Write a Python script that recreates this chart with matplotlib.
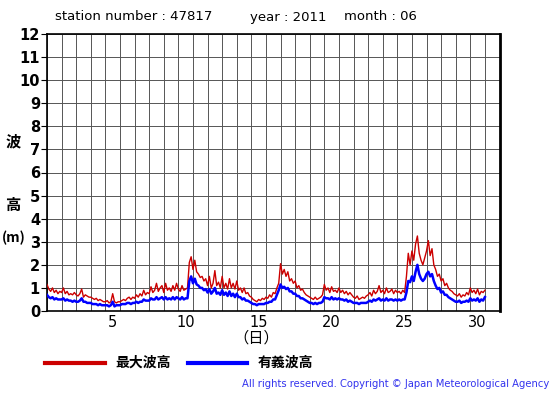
import numpy as np
import matplotlib
matplotlib.use("Agg")
import matplotlib.pyplot as plt

plt.rcParams['font.family'] = ['DejaVu Sans', 'Noto Sans CJK JP']

# 3-hourly readings, June 2011 (day 1 00h ... day 30 21h) + day 31 00h
max_wave = [
    1.15, 0.95, 0.85, 1.0, 0.8, 0.9, 0.75, 0.85,
    0.8, 1.0, 0.75, 0.85, 0.7, 0.75, 0.7, 0.8,
    0.7, 0.65, 0.75, 0.95, 0.6, 0.7, 0.65, 0.6,
    0.6, 0.55, 0.5, 0.55, 0.45, 0.5, 0.45, 0.4,
    0.4, 0.45, 0.35, 0.4, 0.75, 0.4, 0.35, 0.4,
    0.4, 0.45, 0.5, 0.45, 0.55, 0.6, 0.5, 0.6,
    0.55, 0.7, 0.6, 0.75, 0.65, 0.9, 0.7, 0.8,
    0.75, 1.05, 0.8, 0.9, 1.2, 0.85, 1.0, 1.1,
    0.8, 1.2, 0.9, 1.0, 0.85, 1.1, 0.9, 1.2,
    0.95, 0.85, 1.1, 0.9, 0.95, 1.0, 2.1, 2.35,
    1.8, 2.2, 1.7, 1.6, 1.45, 1.5, 1.3, 1.4,
    1.1, 1.5, 1.0, 1.2, 1.75, 1.1, 1.25, 1.0,
    1.5, 1.0, 1.2, 0.95, 1.4, 1.0, 1.2, 0.95,
    1.3, 0.9, 1.0, 0.8, 1.0, 0.75, 0.8, 0.65,
    0.6, 0.5, 0.45, 0.4, 0.5, 0.45, 0.55, 0.5,
    0.6, 0.55, 0.7, 0.6, 0.8, 0.75, 1.0, 1.2,
    2.05, 1.6, 1.8, 1.5, 1.7, 1.3, 1.4, 1.2,
    1.3, 1.0, 1.1, 0.9, 0.95, 0.8, 0.7, 0.65,
    0.6, 0.55, 0.5, 0.6, 0.5, 0.55, 0.6, 0.7,
    1.15, 0.9, 1.0, 0.8, 1.05, 0.85, 0.9, 0.8,
    1.0, 0.8, 0.9, 0.75, 0.85, 0.7, 0.8, 0.7,
    0.6, 0.55, 0.65, 0.5, 0.55, 0.6, 0.55, 0.65,
    0.7, 0.8, 0.65, 0.9, 0.75, 0.85, 1.1, 0.8,
    0.9, 0.75, 1.0, 0.8, 0.85, 0.95, 0.75, 0.9,
    0.8, 0.85, 0.75, 0.9, 0.8, 1.5, 2.5, 2.0,
    2.6, 2.2, 2.9, 3.25, 2.5, 2.2, 2.0, 2.3,
    2.6, 3.05, 2.4, 2.7, 2.0, 1.8, 1.5, 1.6,
    1.3, 1.4, 1.1, 1.2, 1.0, 0.9, 0.85, 0.75,
    0.7, 0.65, 0.75, 0.6, 0.7, 0.65, 0.8, 0.7,
    1.0, 0.8, 0.9, 0.75, 0.95, 0.7, 0.85, 0.8,
    0.9,
]
sig_wave = [
    0.7, 0.6, 0.55, 0.6, 0.5, 0.55, 0.5, 0.5,
    0.5, 0.55, 0.45, 0.5, 0.45, 0.45, 0.4, 0.45,
    0.4, 0.4, 0.45, 0.55, 0.4, 0.4, 0.35, 0.35,
    0.35, 0.3, 0.3, 0.3, 0.25, 0.3, 0.25, 0.25,
    0.25, 0.25, 0.2, 0.25, 0.4, 0.2, 0.25, 0.25,
    0.25, 0.3, 0.3, 0.3, 0.35, 0.35, 0.3, 0.35,
    0.35, 0.4, 0.35, 0.4, 0.4, 0.5, 0.45, 0.45,
    0.45, 0.55, 0.5, 0.5, 0.6, 0.5, 0.55, 0.6,
    0.5, 0.6, 0.5, 0.55, 0.5, 0.6, 0.5, 0.6,
    0.55, 0.5, 0.6, 0.5, 0.55, 0.55, 1.3, 1.5,
    1.2, 1.4, 1.15, 1.1, 1.0, 1.0, 0.9, 0.95,
    0.8, 0.95, 0.75, 0.85, 1.0, 0.75, 0.8, 0.7,
    0.9, 0.7, 0.8, 0.65, 0.85, 0.65, 0.75, 0.6,
    0.75, 0.6, 0.6, 0.5, 0.55, 0.45, 0.45, 0.4,
    0.35, 0.3, 0.3, 0.25, 0.3, 0.3, 0.3, 0.3,
    0.35, 0.35, 0.4, 0.4, 0.5, 0.5, 0.7, 0.9,
    1.15, 1.0, 1.05, 0.95, 1.0, 0.85, 0.85, 0.75,
    0.75, 0.65, 0.65, 0.55, 0.55, 0.5, 0.45, 0.4,
    0.35, 0.35, 0.3, 0.35, 0.3, 0.35, 0.35, 0.4,
    0.6, 0.55, 0.55, 0.5, 0.6, 0.5, 0.55, 0.5,
    0.55, 0.5, 0.5, 0.45, 0.5, 0.4, 0.45, 0.4,
    0.35, 0.35, 0.35, 0.3, 0.35, 0.35, 0.35, 0.35,
    0.4, 0.45, 0.4, 0.5, 0.45, 0.5, 0.55, 0.45,
    0.5, 0.45, 0.55, 0.45, 0.5, 0.5, 0.45, 0.5,
    0.45, 0.5, 0.45, 0.5, 0.5, 0.8, 1.3, 1.25,
    1.5, 1.3, 1.7, 2.0, 1.6, 1.4, 1.3, 1.4,
    1.6, 1.7, 1.5, 1.6, 1.3, 1.1, 0.95, 1.0,
    0.8, 0.85, 0.7, 0.7, 0.6, 0.55, 0.5, 0.45,
    0.4, 0.4, 0.45, 0.35, 0.4, 0.4, 0.45, 0.4,
    0.55, 0.45, 0.5, 0.45, 0.55, 0.4, 0.5, 0.45,
    0.6,
]
x_labels = ["5", "10", "15", "20", "25", "30"]
x_label_days = [5, 10, 15, 20, 25, 30]
y_ticks = list(range(0, 13))

t = 1 + np.arange(len(max_wave)) * 3 / 24.0

W, H = 555, 395
fig = plt.figure(figsize=(W / 100, H / 100), dpi=100)
fig.patch.set_facecolor('white')
L, R, T, B = 47, 499.5, 34, 311
ax = fig.add_axes([L / W, 1 - B / H, (R - L) / W, (B - T) / H])

ax.set_xlim(1, 32)
ax.set_ylim(0, 12)
for d in range(1, 33):
    ax.axvline(d, color='#555555', lw=0.7, zorder=1)
for v in y_ticks:
    ax.axhline(v, color='#555555', lw=0.7, zorder=1)

ax.plot(t, max_wave, color='#cc0000', lw=1.0, zorder=3)
ax.plot(t, sig_wave, color='#0000ff', lw=1.8, zorder=4)

ax.set_yticks(y_ticks)
ax.set_yticklabels([str(v) for v in y_ticks], fontsize=10.5, fontweight='bold')
ax.set_xticks([d + 0.5 for d in x_label_days])
ax.set_xticklabels(x_labels, fontsize=10.5)
ax.tick_params(axis='x', length=0, pad=3)
ax.tick_params(axis='y', length=4, width=0.8, pad=1)
for s in ax.spines.values():
    s.set_linewidth(1.2)
ax.spines['right'].set_linewidth(2)

jp = ['Noto Sans CJK JP', 'DejaVu Sans']
fig.text(55 / W, 1 - 17 / H, "station number : 47817", fontsize=9.5, va='center', ha='left')
fig.text(250 / W, 1 - 17 / H, "year : 2011", fontsize=9.5, va='center', ha='left')
fig.text(344 / W, 1 - 17 / H, "month : 06", fontsize=9.5, va='center', ha='left')

fig.text(13 / W, 1 - 141 / H, "波", family=jp, fontsize=11, fontweight='bold', ha='center', va='center')
fig.text(13 / W, 1 - 205 / H, "高", family=jp, fontsize=11, fontweight='bold', ha='center', va='center')
fig.text(14 / W, 1 - 238 / H, "(m)", family=jp, fontsize=10, fontweight='bold', ha='center', va='center')
fig.text(256 / W, 1 - 338 / H, "（日）", family=jp, fontsize=11, ha='center', va='center')

fig.add_artist(plt.Line2D([45 / W, 105 / W], [1 - 363 / H] * 2, color='#cc0000', lw=3))
fig.text(115 / W, 1 - 363 / H, "最大波高", family=jp, fontsize=10, fontweight='bold', va='center', ha='left')
fig.add_artist(plt.Line2D([188 / W, 247 / W], [1 - 363 / H] * 2, color='#0000ff', lw=3))
fig.text(258 / W, 1 - 363 / H, "有義波高", family=jp, fontsize=10, fontweight='bold', va='center', ha='left')

fig.text(549 / W, 1 - 384 / H, "All rights reserved. Copyright \u00a9 Japan Meteorological Agency",
         fontsize=7.2, color='#3333ee', ha='right', va='center')

fig.savefig("out.png", dpi=100, facecolor='white')
